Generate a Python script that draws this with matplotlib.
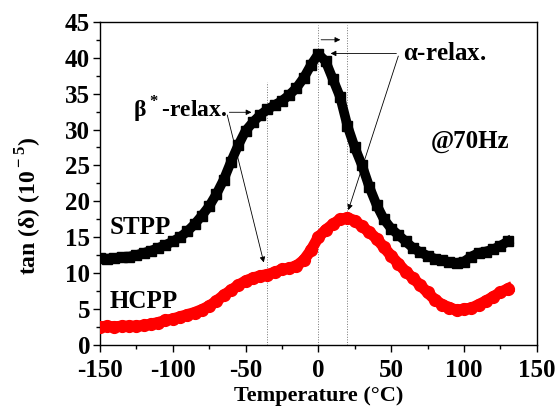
import numpy as np
import matplotlib
matplotlib.use("Agg")
import matplotlib.pyplot as plt
from matplotlib.ticker import MultipleLocator

plt.rcParams['font.family'] = ['Liberation Serif', 'DejaVu Serif']
plt.rcParams['font.weight'] = 'bold'
plt.rcParams['axes.unicode_minus'] = False
plt.rcParams['mathtext.fontset'] = 'custom'
plt.rcParams['mathtext.rm'] = 'Liberation Serif:bold'
plt.rcParams['mathtext.bf'] = 'Liberation Serif:bold'

temp = list(range(-150, 131, 5))
stpp = [12.1, 12.0, 12.1, 12.2, 12.3, 12.5, 12.8, 13.1, 13.5, 13.9,
        14.4, 15.0, 15.8, 16.8, 18.0, 19.3, 21.0, 23.0, 25.5, 27.8,
        29.8, 31.0, 32.0, 32.8, 33.4, 34.0, 34.8, 35.8, 37.2, 39.0,
        40.5, 39.5, 37.0, 34.5, 30.5, 27.5, 25.0, 22.0, 19.5, 17.5,
        16.2, 15.3, 14.4, 13.5, 12.9, 12.4, 12.0, 11.8, 11.5, 11.4,
        11.6, 12.3, 12.8, 13.0, 13.3, 13.8, 14.4]
hcpp = [2.5, 2.6, 2.5, 2.6, 2.6, 2.6, 2.7, 2.9, 3.1, 3.4,
        3.6, 3.9, 4.2, 4.5, 4.9, 5.4, 6.1, 6.9, 7.6, 8.3,
        8.9, 9.3, 9.6, 9.8, 10.1, 10.5, 10.7, 11.0, 11.8, 13.2,
        15.0, 16.0, 16.8, 17.5, 17.7, 17.3, 16.5, 15.7, 14.8, 13.6,
        12.4, 11.3, 10.2, 9.3, 8.3, 7.3, 6.3, 5.6, 5.2, 4.8,
        5.0, 5.1, 5.6, 6.1, 6.7, 7.3, 7.8]

vlines = [-35, 0, 20]
vline_tops = [36.6, 44.6, 44.6]

fig = plt.figure(figsize=(5.58, 4.12), dpi=100)
ax = fig.add_axes([0.179, 0.163, 0.783, 0.784])

for xv, top in zip(vlines, vline_tops):
    ax.plot([xv, xv], [0, top], color='0.45', lw=0.7, ls=':')

ax.plot(temp, stpp, color='black', lw=7, marker='s', ms=7, zorder=3,
        solid_joinstyle='round')
ax.plot(temp, hcpp, color='red', lw=8, marker='o', ms=8.5, zorder=3,
        solid_joinstyle='round')

arrow = dict(arrowstyle='-|>', color='black', lw=0.6, mutation_scale=8)
ax.annotate('', xy=(-44, 32.4), xytext=(-63, 32.4), arrowprops=arrow)
ax.annotate('', xy=(-37, 11.1), xytext=(-63, 32.4), arrowprops=arrow)
ax.annotate('', xy=(6.5, 40.6), xytext=(55.5, 40.6), arrowprops=arrow)
ax.annotate('', xy=(20, 18.4), xytext=(55.5, 40.6), arrowprops=arrow)
ax.annotate('', xy=(17, 42.5), xytext=(0, 42.5), arrowprops=arrow)

ax.text(-127, 32.7, r'$\mathbf{\beta}^{\bf *}$-relax.', fontsize=17,
        fontweight='bold', va='center', ha='left')
ax.text(58, 40.6, r'$\mathbf{\alpha}$-relax.', fontsize=18,
        fontweight='bold', va='center', ha='left')
ax.text(104, 28.3, '@70Hz', fontsize=18, fontweight='bold', ha='center', va='center')
ax.text(-143, 16.4, 'STPP', fontsize=18, fontweight='bold', va='center')
ax.text(-143, 6.0, 'HCPP', fontsize=18, fontweight='bold', va='center')

ax.set_xlim(-150, 150)
ax.set_ylim(0, 45)
ax.xaxis.set_major_locator(MultipleLocator(50))
ax.xaxis.set_minor_locator(MultipleLocator(25))
ax.yaxis.set_major_locator(MultipleLocator(5))
ax.yaxis.set_minor_locator(MultipleLocator(2.5))
ax.tick_params(which='both', direction='out', top=False, right=False,
               labelsize=18, width=1)
ax.tick_params(axis='x', which='major', pad=5)
ax.tick_params(axis='y', which='major', pad=2)
ax.tick_params(which='major', length=5)
ax.tick_params(which='minor', length=3)
for s in ax.spines.values():
    s.set_linewidth(1)

ax.set_xlabel('Temperature (\u00b0C)', fontsize=16, fontweight='bold', labelpad=3)
ax.set_ylabel(r'tan ($\mathbf{\delta}$) (10$^{\bf -5}$)', fontsize=17,
              fontweight='bold')
ax.yaxis.set_label_coords(-0.128, 0.43)

fig.savefig('out.png', dpi=100)
